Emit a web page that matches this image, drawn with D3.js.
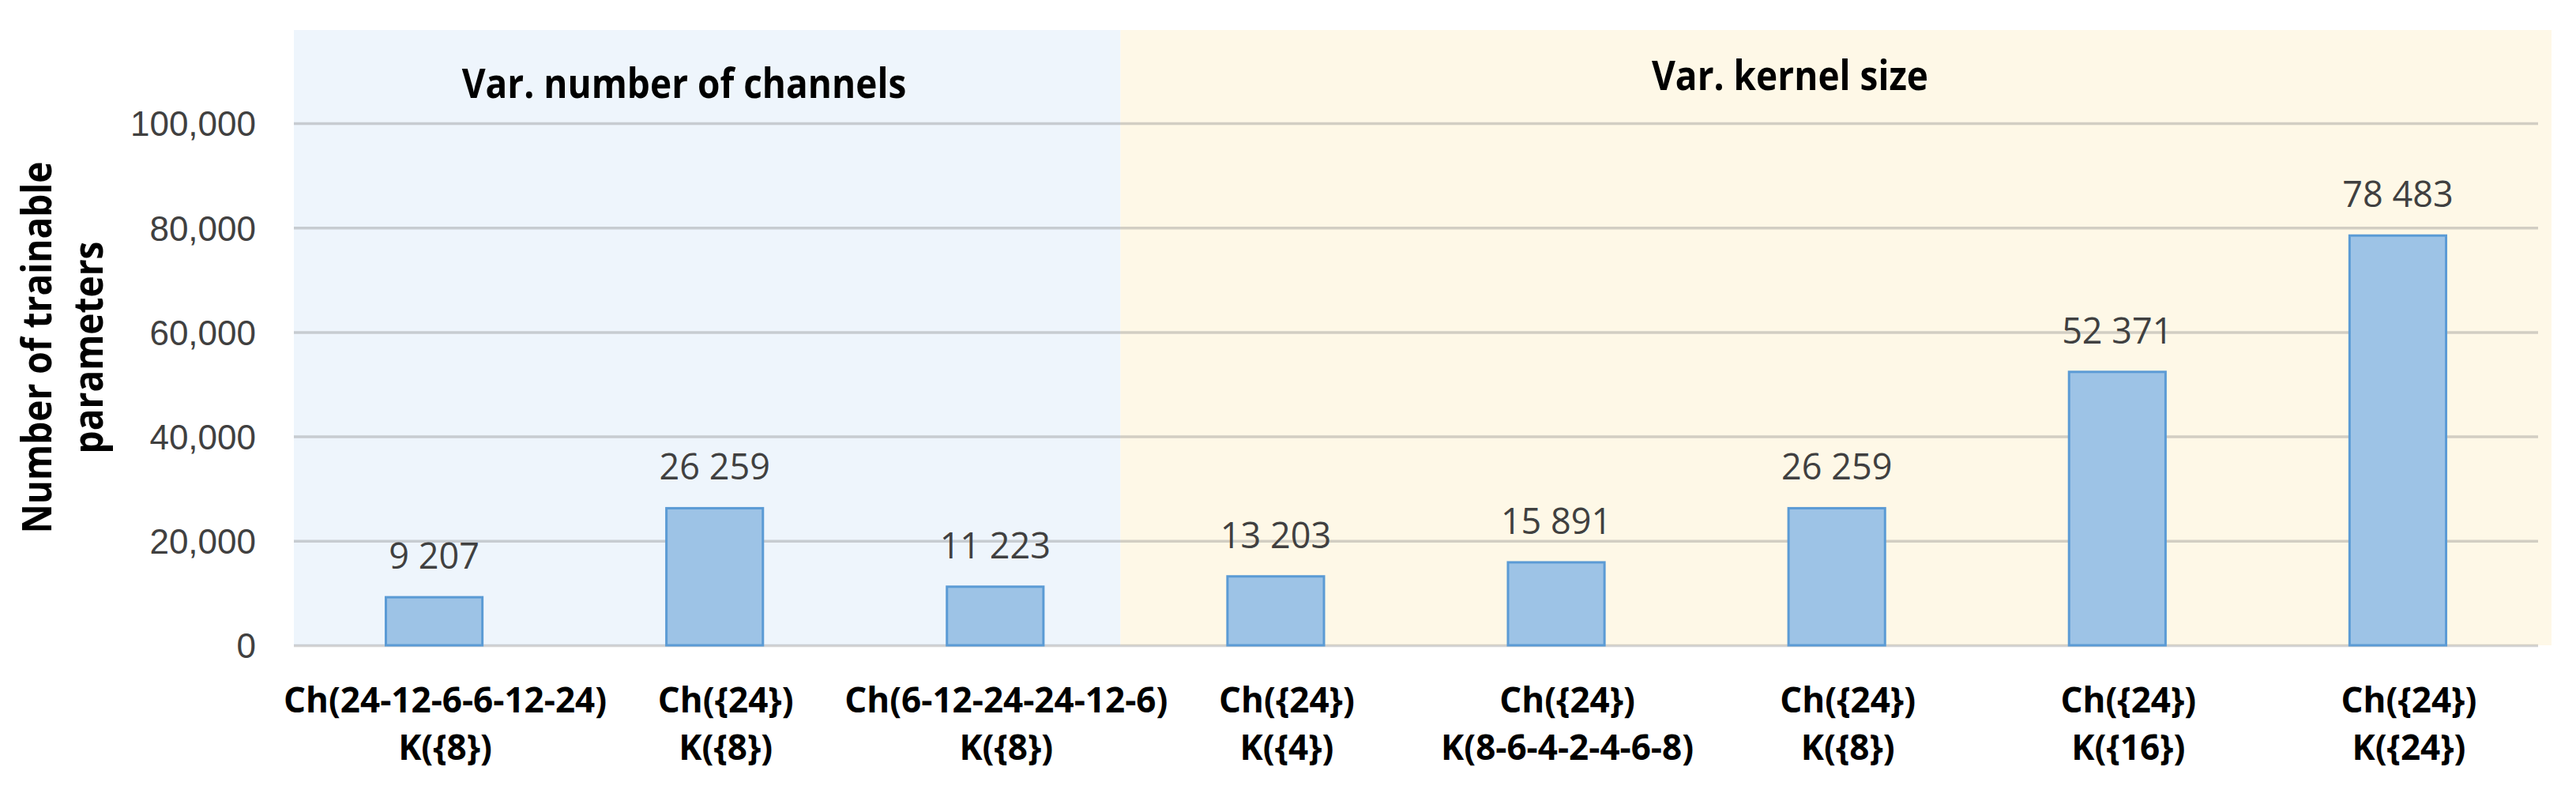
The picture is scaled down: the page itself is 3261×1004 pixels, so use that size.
<!DOCTYPE html>
<html>
<head>
<meta charset="utf-8">
<script src="https://cdn.jsdelivr.net/npm/d3@7"></script>
<style>
  html, body { margin: 0; padding: 0; background: #fff; }
  svg { display: block; font-family: 'Open Sans', 'Noto Sans', sans-serif; }
</style>
</head>
<body>
<svg id="chart" width="3261" height="1004"></svg>
<script>
  // data
  const catLine1 = ['Ch(24-12-6-6-12-24)', 'Ch({24})', 'Ch(6-12-24-24-12-6)', 'Ch({24})', 'Ch({24})', 'Ch({24})', 'Ch({24})', 'Ch({24})']
  const catLine2 = ['K({8})', 'K({8})', 'K({8})', 'K({4})', 'K(8-6-4-2-4-6-8)', 'K({8})', 'K({16})', 'K({24})']
  const values = [9207, 26259, 11223, 13203, 15891, 26259, 52371, 78483]
  const yTicks = [0, 20000, 40000, 60000, 80000, 100000]
  const groupNames = ['Var. number of channels', 'Var. kernel size']
  const groupFirst = [0, 3]
  const yTitle = ['Number of trainable', 'parameters']

  // layout
  const chartW = 3261
  const chartH = 1004
  const plotLeft = 372
  const plotRight = 3213
  const plotTop = 156
  const plotBottom = 817
  const panelTop = 38
  const panelRight = 3230
  const panelColors = ['#eef5fc', '#fef8e7']
  const headerX = [866, 2266]
  const headerY = [124, 114]
  const stretch = 1.12 // bold headings look taller than the font

  const svg = d3.select('#chart')
    .attr('viewBox', `0 0 ${chartW} ${chartH}`)

  const x = d3.scaleBand()
    .domain(d3.range(values.length))
    .range([plotLeft, plotRight])
    .paddingInner(0.656)
    .paddingOuter(0.328)

  const y = d3.scaleLinear()
    .domain([0, 100000])
    .range([plotBottom, plotTop])

  const spaced = d3.formatLocale({ decimal: '.', thousands: ' ', grouping: [3], currency: ['', ''] }).format(',')

  // background panels
  const gap = x.step() * x.paddingInner() / 2
  const split = x(groupFirst[1]) - gap - 19
  const panelX = [plotLeft, split]
  const panelW = [split - plotLeft, panelRight - split]
  svg.append('g').selectAll('rect')
    .data(groupNames)
    .join('rect')
    .attr('x', (d, i) => panelX[i])
    .attr('y', panelTop)
    .attr('width', (d, i) => panelW[i])
    .attr('height', plotBottom - panelTop)
    .style('fill', (d, i) => panelColors[i])

  // gridlines and tick labels
  const yAxis = svg.append('g')
    .attr('transform', `translate(${plotLeft},0)`)
    .call(d3.axisLeft(y).tickValues(yTicks).tickFormat(d3.format(',')).tickSize(-(plotRight - plotLeft)).tickPadding(48))
  yAxis.select('.domain').remove()
  yAxis.selectAll('.tick line')
    .style('stroke', '#787878')
    .style('stroke-opacity', 0.33)
    .style('stroke-width', 3.5)
  yAxis.selectAll('.tick text')
    .style('font-size', '44px')
    .style('fill', '#404040')
    .attr('dy', '0.36em')

  // bars
  svg.append('g').selectAll('rect')
    .data(values)
    .join('rect')
    .attr('x', (d, i) => x(i))
    .attr('y', d => y(d))
    .attr('width', x.bandwidth())
    .attr('height', d => y(0) - y(d))
    .style('fill', '#9dc3e6')
    .style('stroke', '#5b9bd5')
    .style('stroke-width', 3)

  // value labels
  svg.append('g').selectAll('text')
    .data(values)
    .join('text')
    .attr('x', (d, i) => x(i) + x.bandwidth() / 2)
    .attr('y', d => y(d) - 36)
    .style('text-anchor', 'middle')
    .style('font-size', '45px')
    .style('fill', '#404040')
    .text(d => spaced(d))

  // category labels
  const cats = svg.append('g').selectAll('text')
    .data(values)
    .join('text')
    .attr('x', (d, i) => x(i) + x.bandwidth() / 2 + 14)
    .attr('y', 902)
    .style('text-anchor', 'middle')
    .style('font-size', '44px')
    .style('font-weight', 'bold')
    .style('fill', '#000')
  cats.append('tspan').text((d, i) => catLine1[i])
  cats.append('tspan')
    .attr('x', (d, i) => x(i) + x.bandwidth() / 2 + 14)
    .attr('dy', 60)
    .text((d, i) => catLine2[i])

  // group headers
  svg.append('g').selectAll('text')
    .data(groupNames)
    .join('text')
    .attr('transform', (d, i) => `translate(${headerX[i]},${headerY[i]}) scale(1,${stretch})`)
    .style('text-anchor', 'middle')
    .style('font-size', '46px')
    .style('font-weight', 'bold')
    .style('fill', '#000')
    .text(d => d)

  // y axis title
  const title = svg.append('text')
    .attr('transform', `translate(65,440) rotate(-90) scale(1,${stretch})`)
    .style('text-anchor', 'middle')
    .style('font-size', '46px')
    .style('font-weight', 'bold')
    .style('fill', '#000')
  title.append('tspan').attr('x', 0).text(yTitle[0])
  title.append('tspan').attr('x', 0).attr('dy', 58).text(yTitle[1])
</script>
</body>
</html>
